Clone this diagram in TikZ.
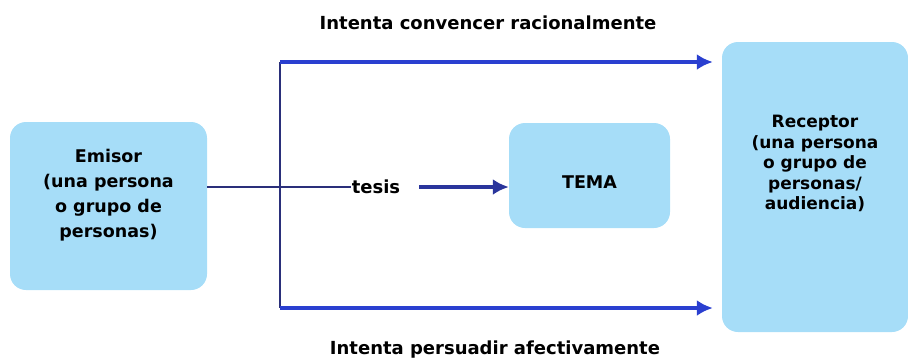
\documentclass[tikz,border=0pt]{standalone}
\usepackage{fontspec}
\setmainfont{DejaVu Sans}
\usetikzlibrary{arrows.meta}
\definecolor{boxblue}{HTML}{A6DDF8}
\definecolor{arrowblue}{HTML}{2A3FD0}
\definecolor{navy}{HTML}{2A2F7A}

\begin{document}
\begin{tikzpicture}[x=1pt, y=-1pt,
    box/.style={fill=boxblue, rounded corners=16pt, align=center, font=\bfseries\fontsize{17.5}{25}\selectfont},
    lbl/.style={font=\bfseries\fontsize{18}{20}\selectfont, inner sep=1pt},
    arr/.style={-{Latex[length=16pt,width=16pt]}, arrowblue, line width=3.5pt}]
    \useasboundingbox (0,0) rectangle (908,362);
    \node[box, minimum width=197pt, minimum height=168pt, text depth=25pt] at (108.5,206) (emisor) {Emisor\\(una persona\\o grupo de\\personas)};
    \node[box, minimum width=161pt, minimum height=105pt, text height=25pt] at (589.5,175.5) (tema) {TEMA};
    \node[box, minimum width=186pt, minimum height=290pt, text depth=49pt, font=\bfseries\fontsize{17}{20.5}\selectfont] at (815,187) (receptor) {Receptor\\(una persona\\o grupo de\\personas/\\audiencia)};
    \node[lbl] at (376,187) (tesis) {tesis};
    \node[lbl] at (488,23) (razon) {Intenta convencer racionalmente};
    \node[lbl] at (495,350) (afecto) {Intenta persuadir afectivamente};
    \coordinate (arriba) at (280,62);
    \coordinate (abajo) at (280,308);
    \draw[navy, line width=1.5pt] (emisor.east |- tesis.west) -- (tesis.west);
    \draw[navy, line width=2pt] (arriba) -- (abajo);
    \draw[arr] (arriba) -- ([xshift=-9pt]arriba -| receptor.west);
    \draw[arr] (abajo) -- ([xshift=-9pt]abajo -| receptor.west);
    \draw[arr, navy!60!arrowblue] ([xshift=18pt]tesis.east) -- (tesis.east -| tema.west);
\end{tikzpicture}
\end{document}
